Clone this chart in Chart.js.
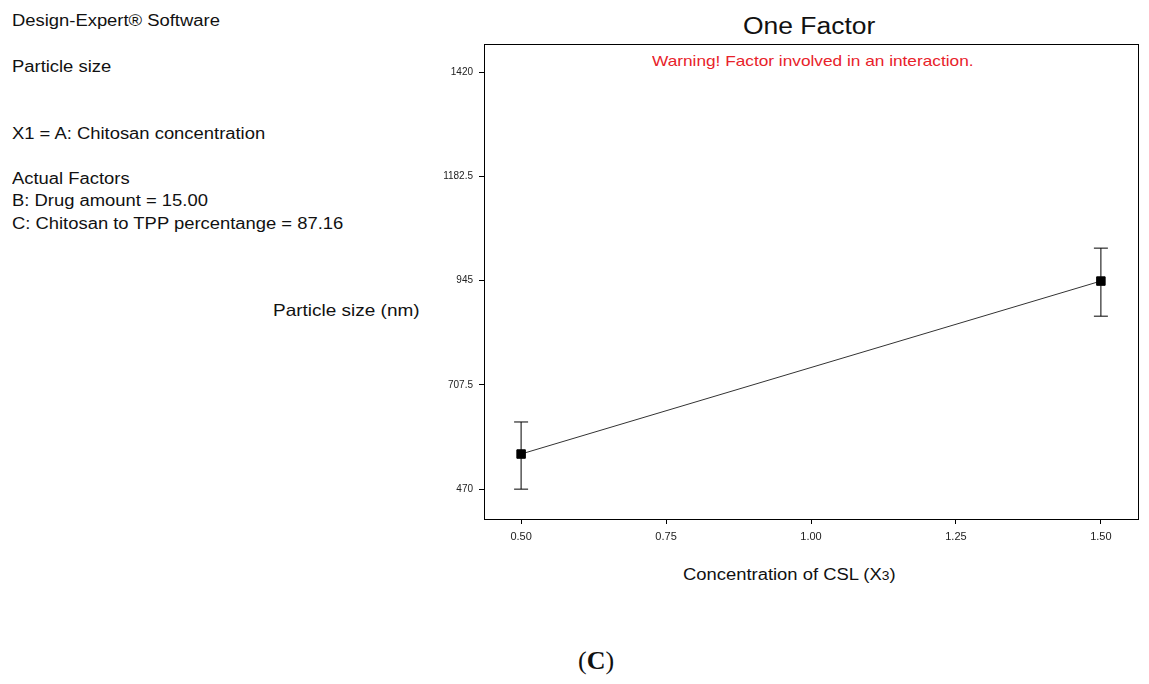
<!DOCTYPE html>
<html><head><meta charset="utf-8">
<script src="https://cdn.jsdelivr.net/npm/chart.js@4/dist/chart.umd.min.js"></script>
<style>
body{margin:0;width:1149px;height:684px;background:#fff;font-family:Arial,"Liberation Sans",sans-serif;position:relative;overflow:hidden}
.t{position:absolute;font-size:16px;color:#111;white-space:nowrap;transform:scaleX(1.15);transform-origin:left top}
#wrap{position:absolute;left:420px;top:0;width:729px;height:600px}
</style></head><body>
<div class="t" style="left:12px;top:12px">Design-Expert® Software</div>
<div class="t" style="left:12px;top:58px">Particle size</div>
<div class="t" style="left:12px;top:125px">X1 = A: Chitosan concentration</div>
<div class="t" style="left:12px;top:170px">Actual Factors</div>
<div class="t" style="left:12px;top:192px">B: Drug amount = 15.00</div>
<div class="t" style="left:12px;top:215px">C: Chitosan to TPP percentange = 87.16</div>
<div class="t" style="left:273px;top:301px;font-size:16.5px">Particle size (nm)</div>
<div class="t" style="left:743px;top:13px;font-size:23px">One Factor</div>
<div class="t" style="left:652px;top:52px;font-size:15px;color:#e8222a">Warning! Factor involved in an interaction.</div>
<div class="t" style="left:683px;top:566px">Concentration of CSL (X<span style="font-size:12px">3</span>)</div>
<div class="t" style="left:578px;top:646px;font-family:'Liberation Serif',serif;font-size:26px;transform:none">(<b>C</b>)</div>
<div id="wrap"><canvas id="c" width="729" height="600"></canvas></div>
<script>
// 資料
const xVals = [0.5, 1.5];
const yVals = [550, 944];
const errLow = [470, 864];
const errHigh = [623, 1019];
const yTicks = [470, 707.5, 945, 1182.5, 1420];
const xTicks = [0.5, 0.75, 1.0, 1.25, 1.5];

const extras = {
    id: 'extras',
    afterDatasetsDraw(chart) {
        const { ctx, chartArea: a, scales: { x, y } } = chart;
        ctx.save();
        ctx.strokeStyle = '#000'; ctx.lineWidth = 1;
        ctx.strokeRect(a.left + .5, a.top + .5, a.right - a.left, a.bottom - a.top);
        xVals.forEach((xv, i) => {
            const px = x.getPixelForValue(xv), lo = y.getPixelForValue(errLow[i]), hi = y.getPixelForValue(errHigh[i]);
            ctx.beginPath();
            ctx.moveTo(px, lo); ctx.lineTo(px, hi);
            ctx.moveTo(px - 7, lo); ctx.lineTo(px + 7, lo);
            ctx.moveTo(px - 7, hi); ctx.lineTo(px + 7, hi);
            ctx.stroke();
        });
        ctx.restore();
    }
};

const tickFont = { family: 'Arial, Liberation Sans', size: 11 };
new Chart(document.getElementById('c'), {
    type: 'scatter',
    data: { datasets: [{ data: xVals.map((v, i) => ({ x: v, y: yVals[i] })), showLine: true, borderColor: '#333', borderWidth: 1, pointStyle: 'rect', pointRadius: 6, pointBackgroundColor: '#000', pointBorderColor: '#000' }] },
    options: {
        responsive: false, animation: false, devicePixelRatio: 1,
        layout: { padding: { left: 0, right: 11, top: 44, bottom: 0 } },
        plugins: { legend: { display: false }, tooltip: { enabled: false } },
        scales: {
            x: {
                min: 0.436, max: 1.564,
                afterBuildTicks: s => { s.ticks = xTicks.map(v => ({ value: v })); },
                afterFit: s => { s.height = 81; },
                ticks: { color: '#222', font: tickFont, padding: 6, callback: v => v.toFixed(2) },
                grid: { drawOnChartArea: false, tickLength: 5, color: '#000' },
                border: { color: '#000' }
            },
            y: {
                min: 402, max: 1484,
                afterBuildTicks: s => { s.ticks = yTicks.map(v => ({ value: v })); },
                afterFit: s => { s.width = 64; },
                ticks: { color: '#222', font: { family: 'Arial, Liberation Sans', size: 10 }, padding: 6, callback: v => String(v) },
                grid: { drawOnChartArea: false, tickLength: 5, color: '#000' },
                border: { color: '#000' }
            }
        }
    },
    plugins: [extras]
});
</script>
</body></html>
